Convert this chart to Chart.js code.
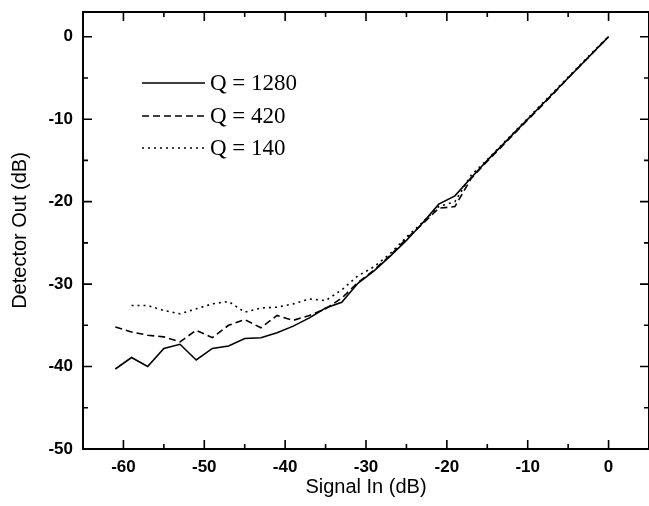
<!DOCTYPE html>
<html>
<head>
<meta charset="utf-8">
<script src="https://cdn.jsdelivr.net/npm/chart.js@4"></script>
<style>
  html, body { margin: 0; padding: 0; background: #fff; }
  #wrap { width: 649px; height: 506px; }
</style>
</head>
<body>
<div id="wrap"><canvas id="chart"></canvas></div>
<script>
// ---- Data ----
const signalIn = [-61, -59, -57, -55, -53, -51, -49, -47, -45, -43, -41, -39, -37, -35, -33,
                  -31, -29, -27, -25, -23, -21, -19, -17, -15, -13, -11, -9, -7, -5, -3, -1, 0];
const signalIn140 = signalIn.slice(1);

const q1280 = [-40.3, -38.9, -40.0, -37.8, -37.3, -39.2, -37.8, -37.5, -36.6, -36.5, -35.9, -35.1, -34.1, -32.9, -32.2,
               -29.9, -28.4, -26.6, -24.7, -22.6, -20.3, -19.3, -17.1, -15.0, -13.0, -11.0, -9.0, -7.0, -5.0, -3.0, -1.0, 0];
const q420  = [-35.2, -35.8, -36.2, -36.4, -37.0, -35.6, -36.5, -35.0, -34.3, -35.3, -33.8, -34.4, -33.8, -33.0, -31.7,
               -29.8, -28.3, -26.5, -24.5, -22.7, -20.8, -20.6, -17.2, -15.1, -13.1, -11.1, -9.1, -7.1, -5.0, -3.0, -1.0, 0];
const q140  = [-32.6, -32.6, -33.2, -33.6, -33.0, -32.4, -32.1, -33.4, -32.9, -32.8, -32.4, -31.8, -32.0, -30.7,
               -29.0, -27.9, -26.3, -24.3, -22.5, -20.6, -20.0, -16.8, -14.9, -12.9, -10.9, -8.9, -6.9, -4.9, -2.9, -0.9, 0];

const seriesLabels = ['Q = 1280', 'Q = 420', 'Q = 140'];
const xTicks = [-60, -50, -40, -30, -20, -10, 0];
const yTicks = [0, -10, -20, -30, -40, -50];

const toPts = (xs, ys) => xs.map((x, i) => ({ x, y: ys[i] }));

const dashes = [[], [7, 4], [2, 4]];

// frame + inward ticks on all four sides
const framePlugin = {
  id: 'frame',
  afterDraw(chart) {
    const { ctx, chartArea: a, scales: { x, y } } = chart;
    ctx.save();
    ctx.strokeStyle = '#000';
    ctx.lineWidth = 2;
    ctx.strokeRect(a.left, a.top, a.right - a.left, a.bottom - a.top);
    ctx.lineWidth = 1.6;
    ctx.beginPath();
    for (let v = -65; v <= 5; v += 5) {
      const px = x.getPixelForValue(v);
      const len = v % 10 === 0 ? 9 : 5;
      ctx.moveTo(px, a.bottom); ctx.lineTo(px, a.bottom - len);
      ctx.moveTo(px, a.top); ctx.lineTo(px, a.top + len);
    }
    for (let v = -50; v <= 0; v += 5) {
      const py = y.getPixelForValue(v);
      const len = v % 10 === 0 ? 9 : 5;
      ctx.moveTo(a.left, py); ctx.lineTo(a.left + len, py);
      ctx.moveTo(a.right, py); ctx.lineTo(a.right - len, py);
    }
    ctx.stroke();
    ctx.restore();
  }
};

// legend drawn inside the plot, as in the original
const legendPlugin = {
  id: 'innerLegend',
  afterDatasetsDraw(chart) {
    const { ctx } = chart;
    const rows = [83, 116, 148];
    ctx.save();
    ctx.font = '23px "Liberation Serif", "Times New Roman", serif';
    ctx.textBaseline = 'middle';
    ctx.fillStyle = '#000';
    chart.data.datasets.forEach((ds, i) => {
      ctx.strokeStyle = '#000';
      ctx.lineWidth = 1.4;
      ctx.setLineDash(dashes[i]);
      ctx.beginPath();
      ctx.moveTo(142, rows[i]);
      ctx.lineTo(205, rows[i]);
      ctx.stroke();
      ctx.setLineDash([]);
      ctx.fillText(ds.label, 210, rows[i] + 1);
    });
    ctx.restore();
  }
};

const tickFont = { family: '"Liberation Sans", Arial, sans-serif', size: 17, weight: 'bold' };
const titleFont = { family: '"Liberation Sans", Arial, sans-serif', size: 20 };

new Chart(document.getElementById('chart'), {
  type: 'line',
  data: {
    datasets: [
      { label: seriesLabels[0], data: toPts(signalIn, q1280) },
      { label: seriesLabels[1], data: toPts(signalIn, q420) },
      { label: seriesLabels[2], data: toPts(signalIn140, q140) },
    ].map((d, i) => ({
      ...d,
      borderColor: '#000',
      borderWidth: 1.6,
      borderDash: dashes[i],
      pointRadius: 0,
      tension: 0,
      fill: false,
    }))
  },
  options: {
    responsive: true,
    maintainAspectRatio: false,
    animation: false,
    layout: { padding: { top: 12, right: 0, left: 0, bottom: 0 } },
    plugins: { legend: { display: false }, tooltip: { enabled: false } },
    scales: {
      x: {
        type: 'linear',
        min: -65, max: 5,
        grid: { display: false, drawTicks: false },
        border: { display: false },
        afterBuildTicks: s => { s.ticks = xTicks.map(v => ({ value: v })); },
        afterFit: s => { s.height = 57; s.paddingLeft = 0; s.paddingRight = 0; },
        ticks: { color: '#000', font: tickFont, padding: 8, maxRotation: 0 },
        title: { display: true, text: 'Signal In (dB)', color: '#000', font: titleFont, padding: { top: 0, bottom: 7 } }
      },
      y: {
        min: -50, max: 3,
        grid: { display: false, drawTicks: false },
        border: { display: false },
        afterBuildTicks: s => { s.ticks = yTicks.map(v => ({ value: v })); },
        afterFit: s => { s.width = 83; s.paddingTop = 0; s.paddingBottom = 0; },
        ticks: { color: '#000', font: tickFont, padding: 10 },
        title: { display: true, text: 'Detector Out (dB)', color: '#000', font: titleFont, padding: { top: 8, bottom: 0 } }
      }
    }
  },
  plugins: [framePlugin, legendPlugin]
});
</script>
</body>
</html>
